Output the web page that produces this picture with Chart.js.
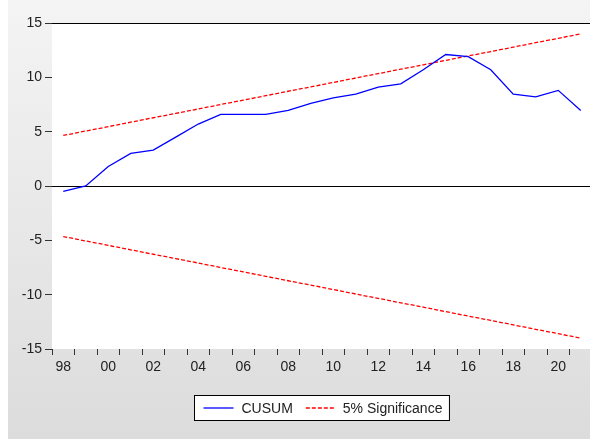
<!DOCTYPE html>
<html>
<head>
<meta charset="utf-8">
<script src="https://cdn.jsdelivr.net/npm/chart.js@4/dist/chart.umd.min.js"></script>
<style>
  html, body { margin: 0; padding: 0; overflow: hidden; background: #ffffff; }
  #wrap { width: 592px; height: 439px; }
</style>
</head>
<body>
<div id="wrap"><canvas id="c" width="592" height="439"></canvas></div>
<script>
// Observation years (annual) and their two-digit axis labels
const years = ['1998','1999','2000','2001','2002','2003','2004','2005','2006','2007','2008','2009',
               '2010','2011','2012','2013','2014','2015','2016','2017','2018','2019','2020','2021'];
const yearLabels = ['98','99','00','01','02','03','04','05','06','07','08','09',
                    '10','11','12','13','14','15','16','17','18','19','20','21'];

// Cumulative sum of recursive residuals
const cusum = [-0.5, 0.0, 1.8, 3.0, 3.3, 4.5, 5.7, 6.6, 6.6, 6.6, 6.95, 7.6,
               8.1, 8.45, 9.1, 9.4, 10.7, 12.1, 11.9, 10.7, 8.45, 8.2, 8.8, 6.95];

// 5% significance bounds
const upperBound = [4.65, 5.06, 5.46, 5.87, 6.28, 6.68, 7.09, 7.50, 7.90, 8.31, 8.72, 9.12,
                    9.53, 9.94, 10.34, 10.75, 11.15, 11.56, 11.97, 12.37, 12.78, 13.19, 13.59, 14.00];
const lowerBound = [-4.65, -5.06, -5.46, -5.87, -6.28, -6.68, -7.09, -7.50, -7.90, -8.31, -8.72, -9.12,
                    -9.53, -9.94, -10.34, -10.75, -11.15, -11.56, -11.97, -12.37, -12.78, -13.19, -13.59, -14.00];

const seriesNames = ['CUSUM', '5% Significance'];

const FONT = '"Liberation Sans", Arial, sans-serif';
const TEXT = '#222222';

// Grey frame with a white plotting panel
const backdrop = {
  id: 'backdrop',
  beforeDraw(chart) {
    const { ctx, chartArea: a, width, height } = chart;
    ctx.save();
    ctx.fillStyle = '#ffffff';
    ctx.fillRect(0, 0, width, height);
    const g = ctx.createLinearGradient(0, 0, 0, height);
    g.addColorStop(0, '#f4f4f4');
    g.addColorStop(1, '#dcdcdc');
    ctx.fillStyle = g;
    ctx.fillRect(8, 0, width - 8, height);
    ctx.fillStyle = '#ffffff';
    ctx.fillRect(a.left, a.top, a.right - a.left, a.bottom - a.top);
    ctx.restore();
  }
};

// Boxed legend below the axis
const boxLegend = {
  id: 'boxLegend',
  afterDraw(chart) {
    const { ctx, chartArea: a } = chart;
    ctx.save();
    ctx.font = '14px ' + FONT;
    const w1 = ctx.measureText(seriesNames[0]).width;
    const w2 = ctx.measureText(seriesNames[1]).width;
    const sample = 30;
    const boxW = 9 + sample + 8 + w1 + 13 + sample + 7 + w2 + 7;
    const boxH = 25;
    const cx = (a.left + 590) / 2;
    const x0 = Math.round(cx - boxW / 2) + 0.5;
    const y0 = 395.5;
    ctx.fillStyle = '#ffffff';
    ctx.fillRect(x0, y0, boxW, boxH);
    ctx.strokeStyle = '#000000';
    ctx.lineWidth = 1;
    ctx.strokeRect(x0, y0, boxW, boxH);
    const ym = y0 + boxH / 2;
    let x = x0 + 9;
    ctx.strokeStyle = chart.data.datasets[0].borderColor;
    ctx.lineWidth = 1.3;
    ctx.beginPath(); ctx.moveTo(x, ym); ctx.lineTo(x + sample, ym); ctx.stroke();
    x += sample + 8;
    ctx.fillStyle = TEXT;
    ctx.textBaseline = 'middle';
    ctx.textAlign = 'left';
    ctx.fillText(seriesNames[0], x, ym + 1);
    x += w1 + 13;
    ctx.strokeStyle = chart.data.datasets[1].borderColor;
    ctx.setLineDash([4, 2]);
    ctx.beginPath(); ctx.moveTo(x, ym); ctx.lineTo(x + sample, ym); ctx.stroke();
    ctx.setLineDash([]);
    x += sample + 7;
    ctx.fillText(seriesNames[1], x, ym + 1);
    ctx.restore();
  }
};

new Chart(document.getElementById('c'), {
  type: 'line',
  data: {
    labels: years,
    datasets: [
      { label: seriesNames[0], data: cusum, borderColor: '#0000ff', borderWidth: 1.3,
        pointRadius: 0, tension: 0, fill: false },
      { label: seriesNames[1], data: upperBound, borderColor: '#ff0000', borderWidth: 1.3,
        borderDash: [4, 2], pointRadius: 0, tension: 0, fill: false },
      { label: seriesNames[1], data: lowerBound, borderColor: '#ff0000', borderWidth: 1.3,
        borderDash: [4, 2], pointRadius: 0, tension: 0, fill: false }
    ]
  },
  options: {
    responsive: false,
    animation: false,
    layout: { padding: { top: 23, left: 0, right: 0, bottom: 50 } },
    plugins: { legend: { display: false }, tooltip: { enabled: false } },
    scales: {
      x: {
        type: 'category',
        offset: true,
        border: { display: false },
        grid: { offset: true, drawOnChartArea: false, drawTicks: true, tickLength: 6,
                tickColor: '#333333', lineWidth: 1 },
        ticks: {
          autoSkip: false, maxRotation: 0, padding: 4,
          color: TEXT, font: { family: FONT, size: 14 },
          callback: (v, i) => (i % 2 === 0 ? yearLabels[i] : '')
        },
        afterFit(scale) { scale.height = 40; }
      },
      y: {
        min: -15, max: 15,
        border: { display: false },
        grid: {
          drawOnChartArea: true, drawTicks: true, tickLength: 7,
          color: (c) => (c.tick && (c.tick.value === 0 || c.tick.value === 15) ? '#000000' : 'rgba(0,0,0,0)'),
          tickColor: '#333333', lineWidth: 1
        },
        ticks: { stepSize: 5, padding: 3, color: TEXT, font: { family: FONT, size: 14 } },
        afterFit(scale) { scale.width = 52; }
      }
    }
  },
  plugins: [backdrop, boxLegend]
});
</script>
</body>
</html>
